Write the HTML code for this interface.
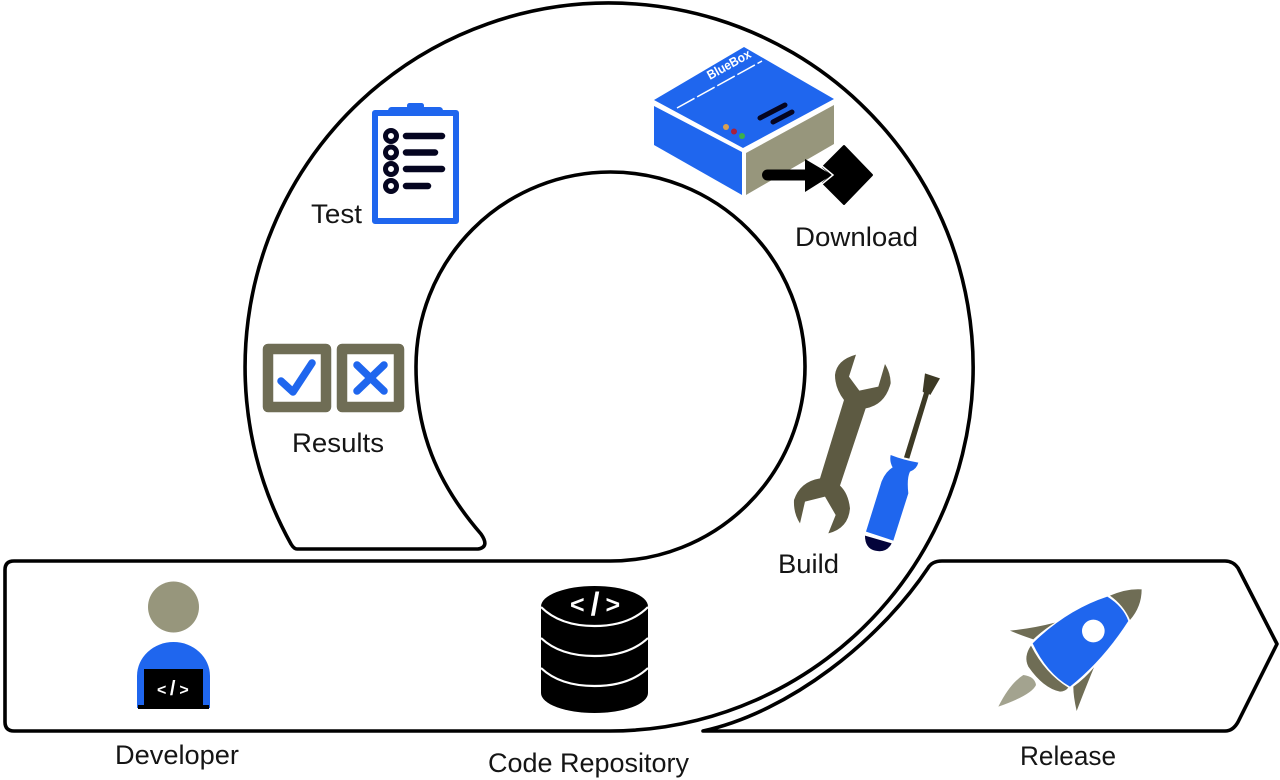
<!DOCTYPE html>
<html>
<head>
<meta charset="utf-8">
<style>
html,body{margin:0;padding:0;background:#fff;width:1280px;height:780px;overflow:hidden}
svg{display:block}
text{font-family:"Liberation Sans",sans-serif;fill:#151515}
</style>
</head>
<body>
<svg width="1280" height="780" viewBox="0 0 1280 780" xmlns="http://www.w3.org/2000/svg">
<rect width="1280" height="780" fill="#fff"/>
<g fill="none" stroke="#000" stroke-width="3.6" stroke-linejoin="round" stroke-linecap="round">
  <!-- main ribbon -->
  <path d="M297,549 Q294,549 291,544 A364,364 0 1 1 610,731 L14,731 Q5,731 5,722 L5,570 Q5,561 14,561 L610,561 A194.500,194.500 0 1 0 416,367 C416,430 436,482 481,534 Q490,547 478,549 Z"/>
  <!-- release -->
  <path d="M703,731 C790,712 880,640 928,568 Q932,561 942,561 L1225,561 Q1233,561 1238,568 L1277,644 L1238,722 Q1233,731 1225,731 Z"/>
</g>

<!-- Clipboard -->
<rect x="375" y="113" width="81" height="108" fill="#fff" stroke="#1f66ee" stroke-width="6" stroke-linejoin="round"/>
<rect x="388" y="107" width="55" height="7.500" rx="3.500" fill="#1f66ee"/>
<rect x="407" y="103" width="17" height="6" rx="2.500" fill="#1f66ee"/>
<g fill="#fff" stroke="#050520" stroke-width="5">
  <circle cx="391" cy="136" r="5.500"/><circle cx="391" cy="152.500" r="5.500"/><circle cx="391" cy="169" r="5.500"/><circle cx="391" cy="186" r="5.500"/>
</g>
<g stroke="#050520" stroke-width="6.500" stroke-linecap="round">
  <path d="M406,136H442M406,152.500H435M406,169H442M406,186H428"/>
</g>

<!-- BlueBox -->
<polygon points="744,47 834,99 743,148 654,100" fill="#1f66ee"/>
<polygon points="654,106 742,152 742,195 654,145" fill="#1f66ee"/>
<polygon points="746,153 834,105 834,144 746,195" fill="#97967c"/>
<g stroke="#fff" stroke-width="1.500" stroke-dasharray="20 3" fill="none"><path d="M677,108 L762,61"/></g>
<text x="0" y="0" transform="translate(710,80) rotate(-29)" font-size="13" font-weight="700" textLength="48" lengthAdjust="spacingAndGlyphs" style="fill:#fff">BlueBox</text>
<g stroke="#050520" stroke-width="5" stroke-linecap="round"><path d="M760,118L785,105M773,122L792,112"/></g>
<circle cx="726" cy="127" r="3" fill="#d9a050"/><circle cx="734" cy="131.500" r="3" fill="#a8203c"/><circle cx="742" cy="136" r="3" fill="#3cb04a"/>
<polygon points="844,146 872,175 844,204 823,183 832,175 823,167" fill="#000" stroke="#000" stroke-width="2" stroke-linejoin="round"/>
<path d="M767.500,175H806" stroke="#000" stroke-width="11" stroke-linecap="round"/>
<polygon points="805,159 832,175 805,192" fill="#000"/>
<path d="M822,166L833,175L822,184" fill="none" stroke="#fff" stroke-width="1.500"/>

<!-- Results -->
<g fill="#fff" stroke="#6f6d55" stroke-width="10.500" stroke-linejoin="round">
  <rect x="268" y="349" width="58" height="58"/>
  <rect x="342" y="349" width="57" height="58"/>
</g>
<g fill="none" stroke="#1f66ee" stroke-width="7.500" stroke-linecap="round" stroke-linejoin="round">
  <path d="M281,381L293,392L312,363"/>
  <path d="M357,365L384,391M384,365L357,391"/>
</g>

<!-- Wrench / screwdriver -->
<g transform="translate(770,340) scale(0.3333)">
  <path d="M258,44 Q200,60 195,105 Q195,145 222,180 L150,415 Q90,425 72,480 Q70,520 90,550 L105,485 L165,470 L197,525 L175,580 Q235,565 240,505 Q235,460 210,437 L287,205 Q345,195 362,130 Q362,100 345,72 L325,140 L268,152 L237,110 Z" fill="#5d5a42"/>
  <path d="M402,352 L462,158 L458,155 L465,100 L510,115 L481,165 L477,162 L418,356 Z" fill="#3d3a25"/>
  <path d="M362,345 Q400,360 445,368 Q440,388 420,395 Q410,415 415,460 L370,602 L288,575 L330,440 Q340,400 368,382 Q358,365 362,345Z" fill="#1f66ee"/>
  <path d="M285,587 L365,610 Q350,640 315,632 Q285,625 285,587Z" fill="#03033a"/>
</g>

<!-- Rocket -->
<g transform="translate(980,550) scale(0.3333)">
  <path d="M382,140 Q430,170 445,213 Q370,330 270,410 Q200,370 158,280 Q260,180 382,140Z" fill="#1f66ee"/>
  <path d="M390,137 Q440,115 485,118 Q485,170 450,210 Q430,165 390,137Z" fill="#6f6d55"/>
  <path d="M90,242 Q160,235 225,218 Q190,240 160,268 Q120,255 90,242Z" fill="#6f6d55"/>
  <path d="M342,352 Q310,430 290,483 Q280,440 280,410 Q315,385 342,352Z" fill="#6f6d55"/>
  <path d="M153,287 Q130,320 145,350 Q190,415 240,425 Q255,425 265,413 Q195,370 153,287Z" fill="#6f6d55"/>
  <path d="M55,470 Q90,400 130,375 Q165,380 168,405 Q155,435 55,470Z" fill="#a3a38f"/>
  <circle cx="340" cy="243" r="34" fill="#fff"/>
</g>

<!-- Developer -->
<circle cx="173.500" cy="607" r="25.500" fill="#97967c"/>
<path d="M137,708 L137,676 A36.500,34 0 0 1 210,676 L210,708 Z" fill="#1f66ee"/>
<rect x="144" y="669" width="59" height="37" fill="#000"/>
<rect x="138" y="705" width="71" height="4" fill="#000"/>
<text x="157" y="695" font-size="16" font-weight="700" style="fill:#fff">&lt;<tspan font-size="20" dx="3.500">/</tspan><tspan dx="4">&gt;</tspan></text>

<!-- Database -->
<path d="M541,606.500 A53.500,20.500 0 0 1 648,606.500 L648,693 A53.500,20 0 0 1 541,693 Z" fill="#000"/>
<g fill="none" stroke="#fff" stroke-width="2.200">
  <path d="M541,607 Q560,626 594.500,626 Q629,626 648,607"/>
  <path d="M541,638 Q560,656 594.500,656 Q629,656 648,638"/>
  <path d="M541,668 Q560,686 594.500,686 Q629,686 648,668"/>
</g>
<text x="570" y="613" font-size="25" font-weight="700" style="fill:#fff">&lt;<tspan font-size="32" dx="6" dy="2">/</tspan><tspan dx="6" dy="-2">&gt;</tspan></text>

<!-- Labels -->
<g font-size="27">
  <text x="311" y="223" textLength="51" lengthAdjust="spacingAndGlyphs">Test</text>
  <text x="292" y="452" textLength="92" lengthAdjust="spacingAndGlyphs">Results</text>
  <text x="795" y="246" textLength="123" lengthAdjust="spacingAndGlyphs">Download</text>
  <text x="778" y="573" textLength="61" lengthAdjust="spacingAndGlyphs">Build</text>
  <text x="115" y="764" textLength="124" lengthAdjust="spacingAndGlyphs">Developer</text>
  <text x="488" y="772" textLength="201" lengthAdjust="spacingAndGlyphs">Code Repository</text>
  <text x="1020" y="765" textLength="96" lengthAdjust="spacingAndGlyphs">Release</text>
</g>
</svg>
</body>
</html>
